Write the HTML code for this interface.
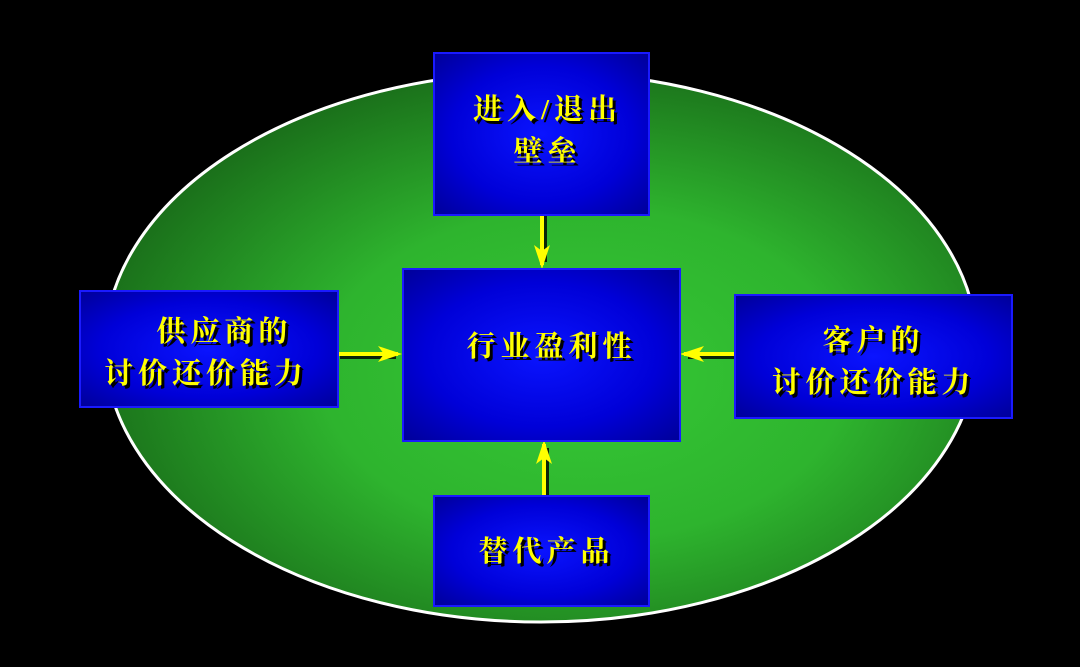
<!DOCTYPE html>
<html><head><meta charset="utf-8"><style>
html,body{margin:0;padding:0;background:#000;width:1080px;height:667px;overflow:hidden}
.b{position:absolute;box-sizing:border-box;border:2px solid #1a1aff;background:radial-gradient(ellipse at center,#0a14ff 0%,#0000d8 60%,#00009a 100%);display:flex;align-items:center;justify-content:center;text-align:center;color:#ffff00;font-family:"Liberation Serif","Noto Serif CJK SC",serif;font-weight:bold;font-size:29px;line-height:42px;letter-spacing:5px;text-shadow:3px 3px 0 #000}
</style></head><body>
<svg width="1080" height="667" style="position:absolute;left:0;top:0">
<defs>
<radialGradient id="g" cx="0.55" cy="0.55" r="0.6">
<stop offset="0" stop-color="#35c835"/><stop offset="0.5" stop-color="#2eb42e"/><stop offset="1" stop-color="#186818"/>
</radialGradient>
<marker id="a" markerWidth="6" markerHeight="4" refX="5" refY="2" orient="auto" markerUnits="strokeWidth"><path d="M0,0 L6,2 L0,4 L1.5,2z" fill="#ffff00"/></marker>
</defs>
<ellipse cx="541" cy="347" rx="436" ry="275" fill="url(#g)" stroke="#fff" stroke-width="3"/>
<g stroke="#000" stroke-width="4" opacity="0.8">
<line x1="545" y1="216" x2="545" y2="262"/><line x1="340" y1="357" x2="396" y2="357"/>
<line x1="734" y1="357" x2="688" y2="357"/><line x1="547" y1="495" x2="547" y2="448"/>
</g>
<g stroke="#ffff00" stroke-width="4" marker-end="url(#a)">
<line x1="542" y1="215" x2="542" y2="265"/><line x1="338" y1="354" x2="398" y2="354"/>
<line x1="734" y1="354" x2="684" y2="354"/><line x1="544" y1="495" x2="544" y2="444"/>
</g>
</svg>
<div class="b" style="left:433px;top:52px;width:217px;height:164px;padding-left:12px;padding-bottom:6px">进入/退出<br>壁垒</div>
<div class="b" style="left:402px;top:268px;width:279px;height:174px;padding-bottom:16px;padding-left:20px">行业盈利性</div>
<div class="b" style="left:79px;top:290px;width:260px;height:118px;padding-right:6px;padding-top:8px">&nbsp;&nbsp;&nbsp;供应商的<br>讨价还价能力</div>
<div class="b" style="left:734px;top:294px;width:279px;height:125px;padding-top:10px">客户的<br>讨价还价能力</div>
<div class="b" style="left:433px;top:495px;width:217px;height:112px;padding-left:10px;padding-top:2px">替代产品</div>
</body></html>
